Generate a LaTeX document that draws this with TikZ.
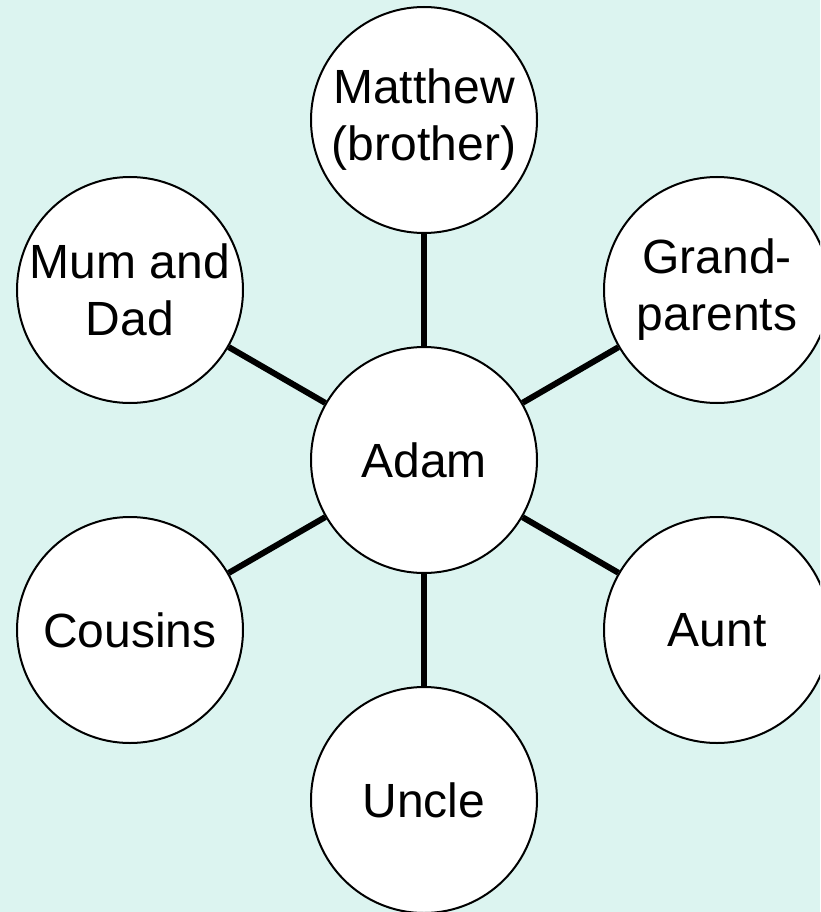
\documentclass[tikz,border=0pt]{standalone}
\usepackage{fontspec}
\setmainfont{Liberation Sans}
\definecolor{bgcol}{RGB}{220,244,240}
\begin{document}
\begin{tikzpicture}[x=1pt,y=-1pt,
  person/.style={circle,draw=black,line width=2pt,fill=white,minimum size=226pt,inner sep=0pt,
    align=center,font=\fontsize{48}{57}\selectfont},
  link/.style={line width=6pt,draw=black}]
\useasboundingbox (0,0) rectangle (820,912);
\clip (0,0) rectangle (820,912);
\fill[bgcol] (0,0) rectangle (820,912);
\node[person] (adam) at (424,460) {Adam};
\node[person] (matthew) at (424,120) {Matthew\\(brother)};
\node[person] (mum) at (130,290) {Mum and\\Dad};
\node[person] (grand) at (717,290) {Grand-\\parents};
\node[person] (cousins) at (130,630) {Cousins};
\node[person] (aunt) at (717,630) {Aunt};
\node[person] (uncle) at (424,800) {Uncle};
\foreach \n in {matthew,mum,grand,cousins,aunt,uncle}
  \draw[link] (adam) -- (\n);
\end{tikzpicture}
\end{document}
